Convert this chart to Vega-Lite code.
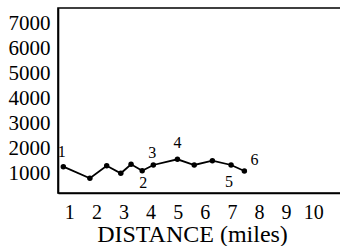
{
  "$schema": "https://vega.github.io/schema/vega-lite/v6.json",
  "autosize": {"type": "none"},
  "padding": {"left": 58, "top": 8, "right": 0, "bottom": 53},
  "width": 284,
  "height": 185,
  "background": "white",
  "config": {
    "view": {"stroke": "black", "strokeWidth": 1.6},
    "font": "'Liberation Serif', 'DejaVu Serif', serif",
    "axis": {"labelOverlap": false, "labelFlush": false, "ticks": false, "tickSize": 0, "grid": false, "domainColor": "black", "domainWidth": 1.6, "labelColor": "black", "titleColor": "black"}
  },
  "datasets": {
    "series": [
      {"distance": 0.78, "value": 1287},
      {"distance": 1.76, "value": 825},
      {"distance": 2.38, "value": 1327},
      {"distance": 2.90, "value": 1024},
      {"distance": 3.28, "value": 1382},
      {"distance": 3.69, "value": 1127},
      {"distance": 4.10, "value": 1355},
      {"distance": 4.99, "value": 1582},
      {"distance": 5.61, "value": 1355},
      {"distance": 6.28, "value": 1526},
      {"distance": 6.97, "value": 1355},
      {"distance": 7.46, "value": 1116}
    ],
    "labels": [
      {"distance": 0.72, "value": 1884, "label": "1"},
      {"distance": 3.73, "value": 625, "label": "2"},
      {"distance": 4.06, "value": 1845, "label": "3"},
      {"distance": 4.99, "value": 2219, "label": "4"},
      {"distance": 6.89, "value": 689, "label": "5"},
      {"distance": 7.83, "value": 1554, "label": "6"}
    ]
  },
  "encoding": {
    "x": {
      "field": "distance", "type": "quantitative",
      "scale": {"domain": [0.583, 11.063], "nice": false, "zero": false},
      "axis": {
        "values": [1, 2, 3, 4, 5, 6, 7, 8, 9, 10],
        "format": "d",
        "title": "DISTANCE (miles)",
        "titleFont": "'Liberation Serif', 'DejaVu Serif', serif", "titleFontSize": 24, "titleFontWeight": "normal",
        "titlePadding": 0, "titleX": 134, "titleAlign": "center", "titleAnchor": "start",
        "labelFont": "'Liberation Serif', 'DejaVu Serif', serif", "labelFontSize": 20,
        "labelPadding": 9, "labelOverlap": false
      }
    },
    "y": {
      "field": "value", "type": "quantitative",
      "scale": {"domain": [239, 7610], "nice": false, "zero": false},
      "axis": {
        "values": [1000, 2000, 3000, 4000, 5000, 6000, 7000],
        "format": "d",
        "title": null,
        "labelFont": "'Liberation Serif', 'DejaVu Serif', serif", "labelFontSize": 21,
        "labelPadding": 8, "labelOverlap": false
      }
    }
  },
  "layer": [
    {
      "data": {"name": "series"},
      "mark": {"type": "line", "color": "black", "strokeWidth": 1.8}
    },
    {
      "data": {"name": "series"},
      "mark": {"type": "point", "filled": true, "color": "black", "size": 30, "opacity": 1}
    },
    {
      "data": {"name": "labels"},
      "mark": {"type": "text", "color": "black", "fill": "black", "fontSize": 16, "font": "'Liberation Serif', 'DejaVu Serif', serif", "baseline": "middle", "align": "center"},
      "encoding": {
        "text": {"field": "label", "type": "nominal"}
      }
    }
  ]
}
